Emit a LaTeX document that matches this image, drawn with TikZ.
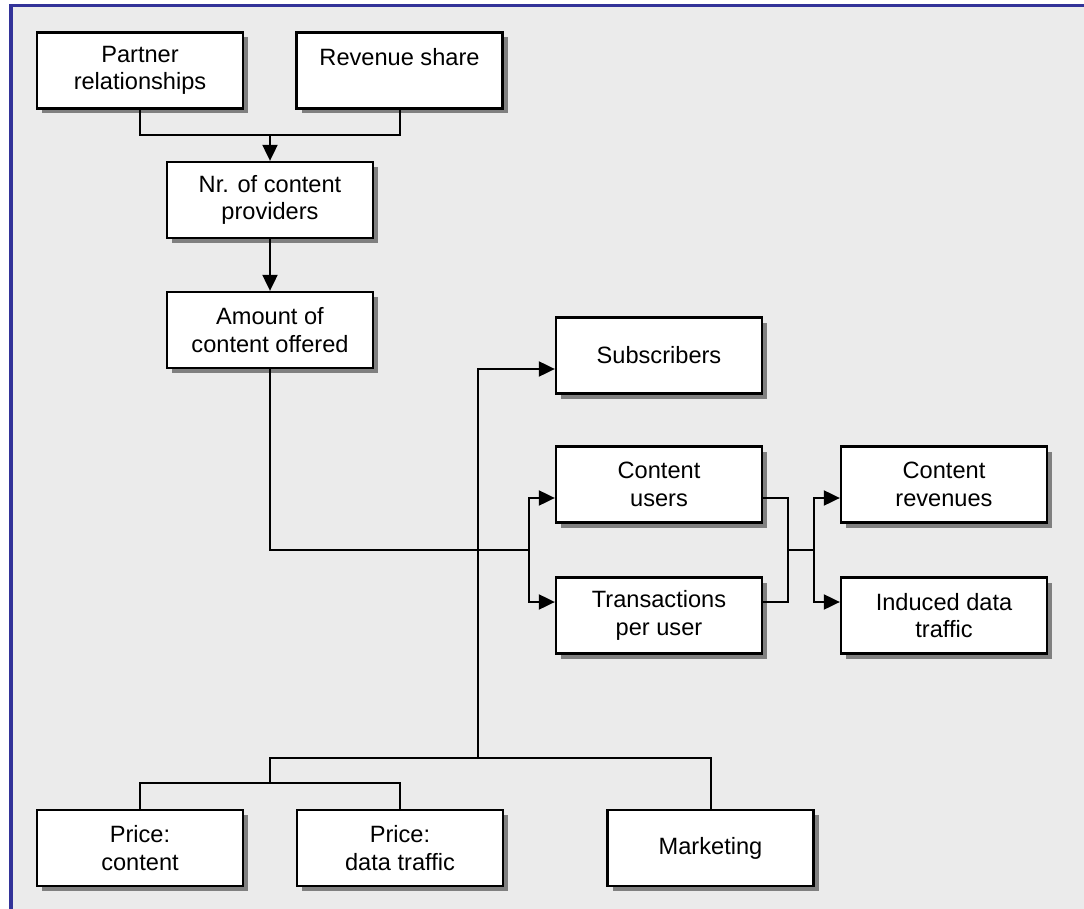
\documentclass[tikz,border=0pt]{standalone}
\usepackage{fontspec}
\setmainfont{Liberation Sans}
\usetikzlibrary{arrows.meta,shadows}
\definecolor{bgray}{HTML}{EBEBEB}
\definecolor{fblue}{HTML}{333399}
\definecolor{shgray}{HTML}{808080}
\begin{document}
\begin{tikzpicture}[x=1pt,y=-1pt,
  box/.style={draw=black, line width=2.3pt, fill=white, minimum width=206pt, minimum height=76pt,
    align=center, inner sep=0pt, font=\fontsize{23.6}{27.5}\selectfont,
    drop shadow={shadow xshift=5pt, shadow yshift=-5pt, fill=shgray, opacity=1}},
  conn/.style={line width=2pt, black},
  arr/.style={conn, -{Triangle[length=16pt,width=15pt]}}]
\useasboundingbox (0,0) rectangle (1084,909);
\fill[white] (0,0) rectangle (1084,909);
\fill[bgray] (12,7) rectangle (1084,909);
\fill[fblue] (9,4) rectangle (1084,7.5);
\fill[fblue] (9,4) rectangle (12.5,909);

\node[box] (partner) at (140,70.5) {Partner\\relationships};
\node[box] (revenue) at (399.5,70.5) {Revenue share\\\mbox{}};
\node[box] (nr) at (270,200) {Nr. of content\\providers};
\node[box] (amount) at (270,330) {Amount of\\content offered};
\node[box] (subs) at (659,355.5) {Subscribers};
\node[box] (users) at (659,484.5) {Content\\users};
\node[box] (trans) at (659,615.5) {Transactions\\per user};
\node[box] (crev) at (944,484.5) {Content\\revenues};
\node[box] (induced) at (944,615.5) {Induced data\\traffic};
\node[box] (pcont) at (140,848) {Price:\\content};
\node[box] (pdata) at (400,848) {Price:\\data traffic};
\node[box] (mkt) at (710.5,848) {Marketing};

\coordinate (b1) at (270,135);
\coordinate (j1) at (529,550);
\coordinate (j2) at (788,550);
\coordinate (j3) at (814,550);
\coordinate (j4) at (478,758);
\coordinate (j5) at (270,783);

\draw[conn] (partner.south) |- (b1) -| (revenue.south);
\draw[arr] (b1) -- (nr.north);
\draw[arr] (nr.south) -- (amount.north);
\draw[conn] (amount.south) |- (j1);
\draw[arr] (j1) |- ([yshift=-13.5pt]users.west);
\draw[arr] (j1) |- ([yshift=13.5pt]trans.west);
\draw[conn] ([yshift=-13.5pt]users.east) -| (j2) |- ([yshift=13.5pt]trans.east);
\draw[conn] (j2) -- (j3);
\draw[arr] (j3) |- ([yshift=-13.5pt]crev.west);
\draw[arr] (j3) |- ([yshift=13.5pt]induced.west);
\draw[arr] (j4) |- ([yshift=-13.5pt]subs.west);
\draw[conn] (pcont.north) |- (j5) -| (pdata.north);
\draw[conn] (j5) |- (j4) -| (mkt.north);
\end{tikzpicture}
\end{document}
